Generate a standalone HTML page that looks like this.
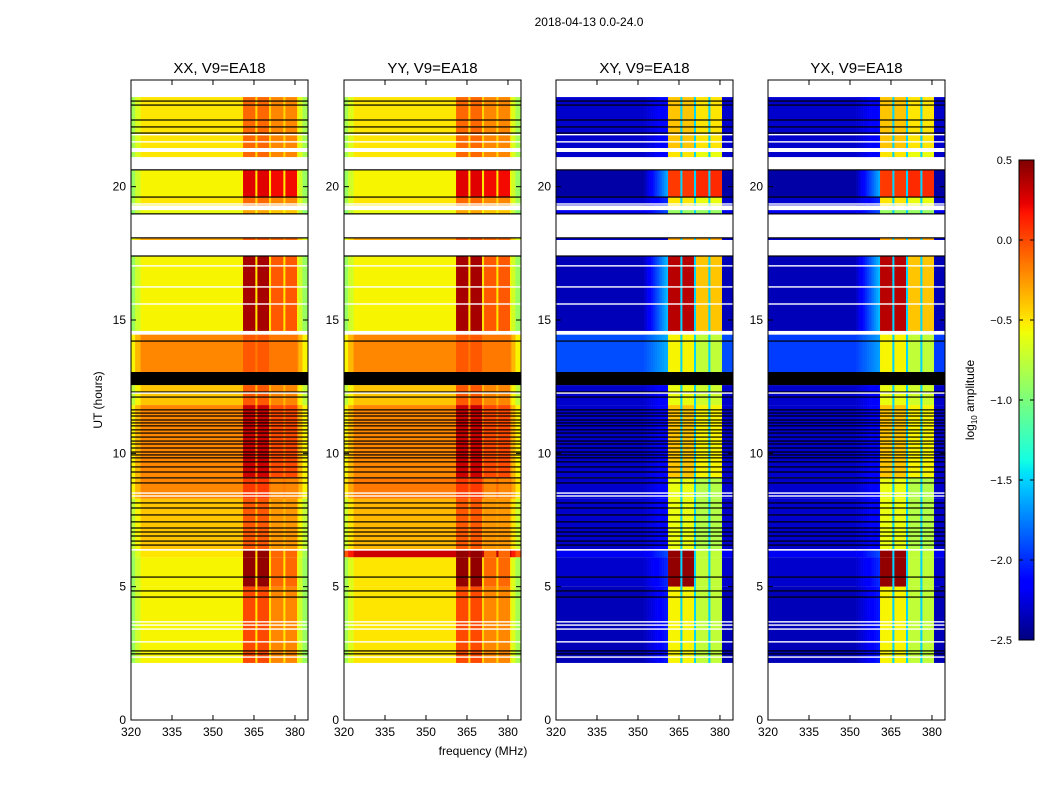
<!DOCTYPE html>
<html><head><meta charset="utf-8">
<style>
body{margin:0;background:#fff;}
svg{display:block;font-family:"Liberation Sans","DejaVu Sans",sans-serif;}
</style></head>
<body>
<svg id="fig" width="1050" height="800" viewBox="0 0 1050 800">
<rect x="0" y="0" width="1050" height="800" fill="#fff"/>
<text x="589" y="26" font-size="12" text-anchor="middle">2018-04-13 0.0-24.0</text>
<text x="483" y="755" font-size="12" text-anchor="middle">frequency (MHz)</text>
<text x="102" y="400" font-size="12" text-anchor="middle" transform="rotate(-90 102 400)">UT (hours)</text>
<text x="974" y="400" font-size="12" text-anchor="middle" transform="rotate(-90 974 400)">log<tspan font-size="8" dy="3">10</tspan><tspan dy="-3"> amplitude</tspan></text>
<g id="panels"></g>
<g id="cbar"></g>
</svg>
<script>
// ---- data ----
const panelTitles = ["XX, V9=EA18","YY, V9=EA18","XY, V9=EA18","YX, V9=EA18"];
const xTicks = [320,335,350,365,380];
const yTicks = [0,5,10,15,20];
const cbTicks = [0.5,0.0,-0.5,-1.0,-1.5,-2.0,-2.5];
const cbLabels = ["0.5","0.0","\u22120.5","\u22121.0","\u22121.5","\u22122.0","\u22122.5"];
const bandLo = [361.0,366.2,371.3,376.4];
const bandHi = [365.5,370.6,375.8,380.8];
const segStart = [23.36,21.30,20.63,19.61,19.12,18.07,17.40,14.45,12.56,11.81,9.10,8.30,6.35,6.10,5.00];
const segEnd   = [21.45,21.11,19.61,19.30,18.97,18.00,14.59,13.05,11.81,9.10,8.30,6.41,6.10,5.00,2.14];
const xxBase   = [-0.5,-0.5,-0.55,-0.5,-0.6,-0.3,-0.55,-0.2,-0.4,-0.2,-0.2,-0.4,-0.5,-0.55,-0.55];
const yyBase   = [-0.5,-0.5,-0.55,-0.5,-0.6,-0.3,-0.55,-0.2,-0.4,-0.2,-0.15,-0.35,0.3,-0.5,-0.5];
const xyBase   = [-2.3,-2.3,-2.4,-2.3,-2.2,-2.3,-2.35,-1.9,-2.3,-2.3,-2.3,-2.3,-2.2,-2.3,-2.35];
const yxBase   = [-2.3,-2.3,-2.4,-2.3,-2.2,-2.3,-2.35,-1.95,-2.3,-2.3,-2.3,-2.3,-2.2,-2.3,-2.35];
const parBand12= [-0.1,-0.1,0.25,-0.1,-0.3,-0.05,0.4,-0.05,-0.05,0.3,0.05,-0.05,0.45,0.45,0.0];
const parBand34= [-0.2,-0.2,0.2,-0.2,-0.4,-0.1,-0.05,-0.15,-0.2,0.0,-0.2,-0.25,-0.1,-0.1,-0.2];
const crsBand12= [-0.4,-0.5,0.05,-0.5,-0.9,-0.3,0.35,-0.55,-0.6,-0.4,-0.6,-0.6,0.45,0.45,-0.55];
const crsBand34= [-0.5,-0.6,0.1,-0.6,-0.9,-0.3,-0.4,-0.75,-0.7,-0.55,-0.8,-0.8,-0.75,-0.75,-0.75];
const crossLift= [0.2,0.2,0.8,0.3,0.3,0,0.8,0.3,0.2,0.2,0.2,0.2,0.3,0.3,0.3];
const blackBlocks = [[13.05,12.56]];
const blackLines = [23.21,23.06,22.5,22.24,22.01,20.63,19.61,18.98,18.08,17.4,14.21,12.3,12.11,11.63,11.51,11.4,11.25,11.14,11.03,10.88,10.76,10.61,10.46,10.35,10.2,10.05,9.94,9.83,9.68,9.49,9.3,9.08,8.89,8.14,7.95,7.69,7.43,7.2,7.05,6.9,6.71,6.56,5.36,4.84,4.61,2.59,2.48];
const whiteLines = [21.95,21.68,19.35,17.03,16.24,15.6,12.26,8.51,8.4,3.68,3.56,3.41,2.93,2.36];

// ---- layout ----
const NS="http://www.w3.org/2000/svg";
const panelX=[131,344,556,768], PW=177, PT=80, PB=720;
const fMin=320, fMax=384.77, hMin=0, hMax=24;
const xs=(f,i)=>panelX[i]+(f-fMin)/(fMax-fMin)*PW;
const ys=h=>PB-(h-hMin)/(hMax-hMin)*(PB-PT);
function jet(v){
  let t=(v+2.5)/3; t=Math.max(0,Math.min(1,t));
  const interp=(pts)=>{for(let k=1;k<pts.length;k++){if(t<=pts[k][0]){const a=pts[k-1],b=pts[k];return a[1]+(b[1]-a[1])*(t-a[0])/(b[0]-a[0]);}}return pts[pts.length-1][1];};
  const r=interp([[0,0],[0.35,0],[0.66,1],[0.89,1],[1,0.5]]);
  const g=interp([[0,0],[0.125,0],[0.375,1],[0.64,1],[0.91,0],[1,0]]);
  const b=interp([[0,0.5],[0.11,1],[0.34,1],[0.65,0],[1,0]]);
  return `rgb(${Math.round(r*255)},${Math.round(g*255)},${Math.round(b*255)})`;
}
function mk(tag,attrs,parent){const e=document.createElementNS(NS,tag);for(const k in attrs)e.setAttribute(k,attrs[k]);parent.appendChild(e);return e;}
function bandOf(f){for(let b=0;b<4;b++){if(f>=bandLo[b]&&f<bandHi[b])return b;}return -1;}
function edgeOff(f){ if(f<321.5)return -0.35; if(f<323.5)return -0.15; if(f>382.8)return -0.35; if(f>381.2)return -0.15; return 0; }

const root=document.getElementById('panels');
const step=0.25;
for(let p=0;p<4;p++){
  const g=mk('g',{},root);
  
  
  const bases=[xxBase,yyBase,xyBase,yxBase][p];
  const cross=p>=2;
  for(let s=0;s<segStart.length;s++){
    const y0=ys(segStart[s]), y1=ys(segEnd[s]);
    let runStart=fMin, runCol=null;
    const flush=(fEnd)=>{
      if(runCol===null)return;
      const x0=xs(runStart,p), x1=xs(fEnd,p);
      const r=mk('rect',{x:x0.toFixed(2),y:y0.toFixed(2),width:(x1-x0+0.3).toFixed(2),height:(y1-y0).toFixed(2),fill:runCol},g);
      
      
    };
    for(let f=fMin;f<fMax;f+=step){
      const fc=f+step/2, b=bandOf(fc);
      let v;
      if(!cross){
        if(b>=0) v=(b<2?parBand12[s]:parBand34[s]);
        else if(fc>bandLo[0]&&fc<bandHi[3]) v=bases[s]+0.05;
        else v=bases[s]+edgeOff(fc);
      } else {
        if(b>=0) v=(b<2?crsBand12[s]:crsBand34[s]);
        else if(fc>bandLo[0]&&fc<bandHi[3]) v=-1.5;
        else if(fc>=352&&fc<=bandLo[0]) v=bases[s]+crossLift[s]*(fc-352)/(bandLo[0]-352);
        else v=bases[s];
      }
      const c=jet(v);
      if(c!==runCol){flush(f);runStart=f;runCol=c;}
    }
    flush(fMax);
  }
  for(const bb of blackBlocks){
    const r=mk('rect',{x:panelX[p],y:ys(bb[0]),width:PW,height:ys(bb[1])-ys(bb[0]),fill:'#000'},g);
    
    
  }
  for(const h of blackLines){
    const r=mk('rect',{x:panelX[p],y:ys(h)-0.6,width:PW,height:1.2,fill:'#000'},g);
    
    
  }
  for(const h of whiteLines){
    const r=mk('rect',{x:panelX[p],y:ys(h)-0.7,width:PW,height:1.4,fill:'#fff'},g);
    
    
  }
  const fr=mk('rect',{x:panelX[p],y:PT,width:PW,height:PB-PT,fill:'none',stroke:'#000','stroke-width':1},g);
  
  
  const tt=mk('text',{x:panelX[p]+PW/2,y:PT-7,'font-size':15,'text-anchor':'middle'},g);
  tt.textContent=panelTitles[p];
  
  
  for(const t of xTicks){
    const x=xs(t,p);
    mk('line',{x1:x,x2:x,y1:PB,y2:PB-5,stroke:'#000'},g);
    mk('line',{x1:x,x2:x,y1:PT,y2:PT+5,stroke:'#000'},g);
    const lt=mk('text',{x:x,y:PB+16,'font-size':12,'text-anchor':'middle'},g);
    lt.textContent=t;
    
    
  }
  for(const t of yTicks){
    const y=ys(t);
    mk('line',{x1:panelX[p],x2:panelX[p]+5,y1:y,y2:y,stroke:'#000'},g);
    mk('line',{x1:panelX[p]+PW,x2:panelX[p]+PW-5,y1:y,y2:y,stroke:'#000'},g);
    const lt=mk('text',{x:panelX[p]-5,y:y+4,'font-size':12,'text-anchor':'end'},g);
    lt.textContent=t;
    
    
  }
}
// colorbar
const cb=document.getElementById('cbar');
const cbX=1019,cbW=15,cbT=160,cbB=640;
for(let i=0;i<240;i++){
  const v=0.5-3*(i+0.5)/240;
  mk('rect',{x:cbX,y:cbT+i*2,width:cbW,height:2.3,fill:jet(v)},cb);
}
mk('rect',{x:cbX,y:cbT,width:cbW,height:cbB-cbT,fill:'none',stroke:'#000'},cb);
cbTicks.forEach((v,i)=>{
  const y=cbT+(0.5-v)/3*(cbB-cbT);
  mk('line',{x1:cbX,x2:cbX+4,y1:y,y2:y,stroke:'#000'},cb);
  mk('line',{x1:cbX+cbW,x2:cbX+cbW-4,y1:y,y2:y,stroke:'#000'},cb);
  const t=mk('text',{x:cbX-7,y:y+4,'font-size':11,'text-anchor':'end'},cb);
  t.textContent=cbLabels[i];
  
  
});
</script>
</body></html>
